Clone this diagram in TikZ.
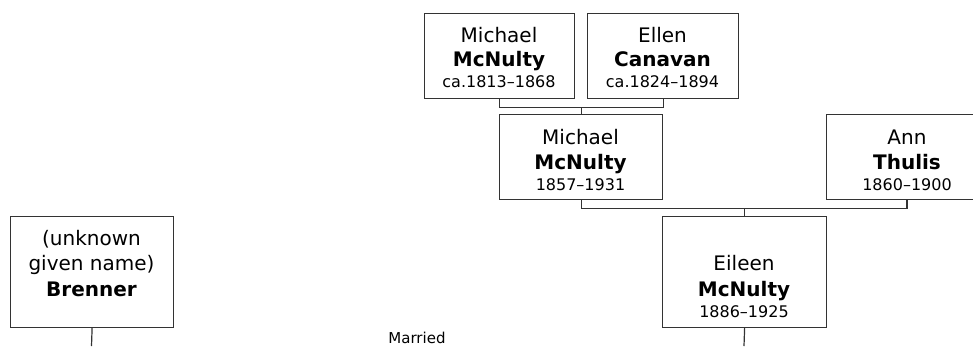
\documentclass[tikz,border=0pt]{standalone}
\usepackage{fontspec}
\setmainfont{DejaVu Sans}
\begin{document}
\begin{tikzpicture}[x=1pt,y=-1pt,
  pbox/.style={draw=black!80,line width=1.2pt,inner sep=0pt,anchor=north west,fill=white},
  gname/.style={font=\fontsize{20}{24}\selectfont,anchor=base,inner sep=0pt},
  sname/.style={font=\fontsize{20}{24}\selectfont\bfseries,anchor=base,inner sep=0pt},
  dates/.style={font=\fontsize{16}{19}\selectfont,anchor=base,inner sep=0pt},
  note/.style={font=\fontsize{15}{18}\selectfont,anchor=base,inner sep=0pt},
  conn/.style={draw=black!80,line width=1.2pt}]
\useasboundingbox (0,0) rectangle (973,346);

% boxes
\node[pbox,minimum width=150pt,minimum height=85pt] (A) at (424,13) {};
\node[pbox,minimum width=151pt,minimum height=85pt] (B) at (587,13) {};
\node[pbox,minimum width=163pt,minimum height=85pt] (C) at (499,114) {};
\node[pbox,minimum width=147pt,minimum height=85pt] (D) at (825.5,114) {};
\node[pbox,minimum width=164pt,minimum height=111pt] (E) at (662,216) {};
\node[pbox,minimum width=163pt,minimum height=111pt] (F) at (10,216) {};

% texts
\node[gname] (A1) at (499,42.7) {Michael};
\node[sname] (A2) at (499,66.7) {McNulty};
\node[dates] (A3) at (499,87.3) {ca.1813–1868};

\node[gname] (B1) at (662.5,42.7) {Ellen};
\node[sname] (B2) at (662.5,66.7) {Canavan};
\node[dates] (B3) at (662.5,87.3) {ca.1824–1894};

\node[gname] (C1) at (580.5,144.3) {Michael};
\node[sname] (C2) at (580.5,169.3) {McNulty};
\node[dates] (C3) at (580.5,190) {1857–1931};

\node[gname] (D1) at (907,144.3) {Ann};
\node[sname] (D2) at (907,169.3) {Thulis};
\node[dates] (D3) at (907,190) {1860–1900};

\node[gname] (E1) at (744,270) {Eileen};
\node[sname] (E2) at (744,296) {McNulty};
\node[dates] (E3) at (744,317) {1886–1925};

\node[gname] (F1) at (91.5,245) {(unknown};
\node[gname] (F2) at (91.5,270) {given name)};
\node[sname] (F3) at (91.5,296) {Brenner};

\node[note] (M) at (417,343) {Married};

% connectors
\draw[conn] (A.south) -- ++(0,8) coordinate (ab) -| (B.south);
\draw[conn] (C.north) -- (C.north |- ab);
\draw[conn] (C.south) -- ++(0,8) coordinate (cd) -| (D1 |- D.south);
\draw[conn] (E.north) -- (E.north |- cd);
\coordinate (Fend) at (91.5,346);
\coordinate (Eend) at (744,346);
\draw[conn] (F.south) -- (Fend);
\draw[conn] (E.south) -- (Eend);
\end{tikzpicture}
\end{document}
